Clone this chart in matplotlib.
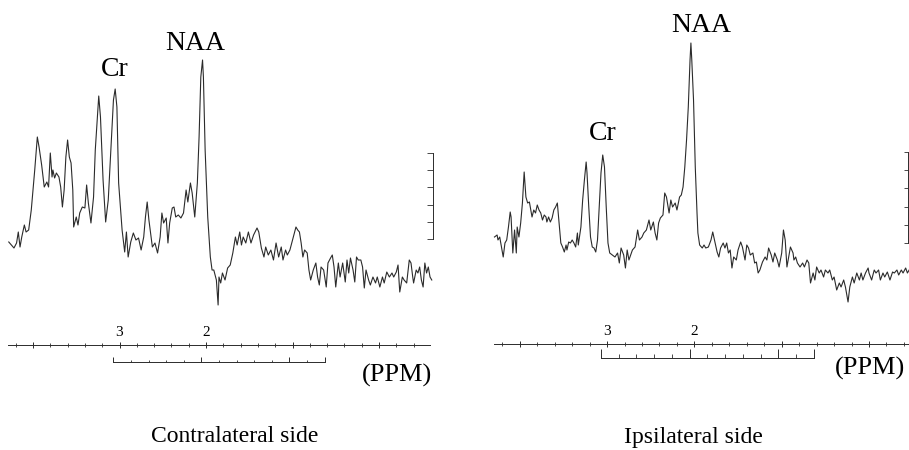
import numpy as np
import matplotlib
matplotlib.use("Agg")
import matplotlib.pyplot as plt
from matplotlib.ticker import FixedLocator, FixedFormatter

plt.rcParams['font.family'] = ['Liberation Serif', 'DejaVu Serif']

# spectra: chemical shift (ppm) and signal (arbitrary units)
contra_ppm = [4.28, 4.25, 4.22, 4.19, 4.17, 4.15, 4.13, 4.10, 4.08, 4.05,
              4.02, 3.98, 3.95, 3.93, 3.90, 3.87, 3.84, 3.82, 3.80, 3.78,
              3.77, 3.75, 3.73, 3.70, 3.68, 3.66, 3.64, 3.62, 3.60, 3.58,
              3.56, 3.54, 3.53, 3.50, 3.48, 3.46, 3.43, 3.40, 3.38, 3.36,
              3.33, 3.30, 3.28, 3.24, 3.22, 3.19, 3.16, 3.13, 3.10, 3.07,
              3.05, 3.03, 3.01, 2.97, 2.94, 2.92, 2.90, 2.87, 2.84, 2.81,
              2.78, 2.75, 2.72, 2.70, 2.68, 2.66, 2.62, 2.59, 2.56, 2.53,
              2.51, 2.49, 2.46, 2.44, 2.42, 2.39, 2.37, 2.35, 2.32, 2.29,
              2.26, 2.23, 2.21, 2.18, 2.16, 2.13, 2.10, 2.08, 2.06, 2.04,
              2.03, 2.01, 1.98, 1.95, 1.93, 1.91, 1.88, 1.86, 1.85, 1.83,
              1.81, 1.78, 1.75, 1.72, 1.69, 1.66, 1.64, 1.61, 1.59, 1.57,
              1.54, 1.51, 1.48, 1.45, 1.41, 1.39, 1.36, 1.33, 1.31, 1.28,
              1.25, 1.22, 1.19, 1.16, 1.13, 1.11, 1.08, 1.06, 1.03, 1.00,
              0.96, 0.94, 0.92, 0.90, 0.88, 0.86, 0.83, 0.81, 0.79, 0.76,
              0.73, 0.71, 0.69, 0.67, 0.64, 0.61, 0.59, 0.56, 0.54, 0.52,
              0.50, 0.47, 0.45, 0.42, 0.39, 0.37, 0.35, 0.33, 0.30, 0.28,
              0.26, 0.24, 0.21, 0.19, 0.17, 0.15, 0.12, 0.10, 0.07, 0.04,
              0.02, -0.01, -0.04, -0.06, -0.09, -0.12, -0.15, -0.17, -0.20, -0.22,
              -0.24, -0.27, -0.29, -0.32, -0.35, -0.37, -0.39, -0.40, -0.43, -0.45,
              -0.47, -0.49, -0.51, -0.53, -0.55, -0.57, -0.59, -0.61]
contra_amp = [68, 65, 62, 67, 78, 63, 73, 85, 78, 80,
              100, 140, 173, 163, 145, 123, 128, 123, 157, 133,
              140, 132, 137, 133, 123, 103, 120, 153, 170, 153,
              147, 120, 83, 93, 85, 97, 103, 102, 125, 107,
              87, 113, 160, 214, 193, 130, 88, 110, 160, 210,
              221, 203, 127, 80, 58, 78, 53, 68, 77, 70,
              72, 60, 73, 93, 108, 90, 63, 67, 57, 73,
              97, 87, 92, 67, 87, 102, 103, 93, 95, 92,
              97, 120, 108, 127, 117, 93, 127, 173, 233, 250,
              233, 160, 93, 53, 40, 40, 30, 5, 33, 27,
              37, 30, 42, 45, 57, 73, 65, 78, 65, 73,
              67, 78, 67, 75, 82, 78, 62, 53, 63, 55,
              60, 50, 67, 53, 63, 50, 60, 55, 60, 70,
              83, 80, 78, 67, 53, 60, 57, 40, 30, 40,
              47, 33, 25, 43, 40, 23, 47, 52, 55, 43,
              23, 47, 33, 47, 28, 50, 37, 52, 40, 28,
              53, 50, 50, 43, 22, 40, 30, 25, 33, 27,
              33, 23, 33, 27, 38, 33, 37, 33, 38, 45,
              18, 33, 30, 27, 50, 47, 33, 27, 40, 37,
              43, 30, 23, 47, 37, 43, 33, 30]

ipsi_ppm = [4.29, 4.26, 4.25, 4.23, 4.21, 4.19, 4.17, 4.15, 4.13, 4.11,
            4.10, 4.08, 4.06, 4.04, 4.03, 4.01, 3.99, 3.97, 3.95, 3.93,
            3.91, 3.89, 3.88, 3.86, 3.84, 3.82, 3.80, 3.78, 3.76, 3.74,
            3.72, 3.70, 3.69, 3.67, 3.65, 3.63, 3.61, 3.59, 3.57, 3.55,
            3.53, 3.51, 3.49, 3.47, 3.46, 3.44, 3.42, 3.40, 3.38, 3.36,
            3.34, 3.33, 3.30, 3.28, 3.26, 3.24, 3.23, 3.21, 3.19, 3.17,
            3.15, 3.13, 3.11, 3.09, 3.07, 3.05, 3.03, 3.01, 2.99, 2.97,
            2.94, 2.91, 2.88, 2.86, 2.84, 2.81, 2.79, 2.77, 2.75, 2.71,
            2.68, 2.65, 2.63, 2.60, 2.58, 2.55, 2.52, 2.50, 2.47, 2.45,
            2.43, 2.41, 2.39, 2.36, 2.34, 2.32, 2.29, 2.27, 2.25, 2.22,
            2.20, 2.17, 2.15, 2.13, 2.11, 2.09, 2.07, 2.05, 2.04, 2.03,
            2.01, 1.99, 1.97, 1.96, 1.94, 1.91, 1.89, 1.87, 1.84, 1.81,
            1.79, 1.77, 1.74, 1.72, 1.70, 1.67, 1.65, 1.63, 1.61, 1.59,
            1.57, 1.55, 1.52, 1.50, 1.47, 1.45, 1.42, 1.40, 1.38, 1.36,
            1.33, 1.31, 1.29, 1.27, 1.25, 1.22, 1.19, 1.17, 1.15, 1.12,
            1.10, 1.08, 1.05, 1.03, 1.00, 0.98, 0.96, 0.94, 0.92, 0.90,
            0.87, 0.86, 0.84, 0.82, 0.79, 0.76, 0.74, 0.71, 0.69, 0.67,
            0.64, 0.62, 0.60, 0.57, 0.55, 0.52, 0.50, 0.47, 0.45, 0.42,
            0.40, 0.37, 0.34, 0.32, 0.29, 0.27, 0.24, 0.22, 0.19, 0.17,
            0.14, 0.11, 0.09, 0.07, 0.04, 0.01, 0.00, -0.03, -0.06, -0.08,
            -0.11, -0.13, -0.16, -0.18, -0.21, -0.24, -0.27, -0.29, -0.32, -0.34,
            -0.37, -0.39, -0.42, -0.44, -0.46]
ipsi_amp = [73, 75, 70, 73, 63, 53, 67, 70, 83, 98,
            93, 57, 80, 57, 83, 73, 87, 107, 138, 113,
            107, 108, 103, 93, 100, 97, 105, 100, 97, 90,
            95, 93, 88, 93, 88, 92, 100, 103, 107, 87,
            67, 63, 58, 65, 60, 68, 67, 70, 67, 63,
            77, 65, 83, 110, 130, 148, 137, 103, 73, 63,
            62, 58, 70, 103, 137, 155, 143, 103, 67, 57,
            55, 53, 57, 47, 62, 55, 42, 60, 50, 60,
            63, 80, 70, 73, 77, 80, 90, 80, 88, 77,
            70, 87, 92, 95, 117, 113, 97, 110, 103, 107,
            100, 113, 115, 123, 143, 170, 203, 250, 267, 250,
            210, 143, 97, 77, 65, 62, 65, 62, 63, 70,
            78, 70, 58, 53, 62, 67, 62, 67, 57, 60,
            42, 53, 50, 60, 68, 63, 50, 65, 62, 55,
            57, 47, 48, 37, 40, 48, 53, 50, 62, 55,
            48, 57, 50, 43, 57, 80, 70, 43, 53, 63,
            57, 50, 53, 47, 43, 47, 43, 50, 47, 27,
            37, 30, 43, 37, 40, 33, 40, 37, 40, 30,
            33, 20, 27, 23, 30, 23, 8, 23, 33, 27,
            37, 30, 37, 30, 37, 42, 37, 30, 40, 37,
            40, 30, 37, 33, 38, 30, 38, 37, 40, 35,
            40, 37, 42, 37, 40]

ppm_major = [4, 3, 2, 1, 0]
ppm_labels = ['', '3', '2', '', '']
bracket_ppm = np.linspace(3.07, 0.63, 13)   # reference bracket, 0.2 ppm steps
titles = ['Contralateral side', 'Ipsilateral side']

# layout in pixels of the 909 x 450 picture
W, H = 909, 450
AMP_LIM = (-140, 310)
INK = '#2b2b2b'

panels = [
    dict(ppm=contra_ppm, amp=contra_amp, title=titles[0],
         x0=0, x1=455, zero=379, scale=86.5, axis_y=344.5, span=(8, 430),
         br_y=362, br_major=5, br_minor=2.5,
         bar_x=433, bar=(71, 157), bar_len=6,
         cr=(3.06, 240), naa=(2.12, 267), unit=(-0.21, -65), title_xy=(235, 437)),
    dict(ppm=ipsi_ppm, amp=ipsi_amp, title=titles[1],
         x0=460, x1=909, zero=869, scale=87.3, axis_y=344, span=(494, 909),
         br_y=358, br_major=9, br_minor=4,
         bar_x=908, bar=(67, 158), bar_len=4,
         cr=(3.05, 177), naa=(1.92, 284), unit=(-0.01, -58), title_xy=(693, 438)),
]


def box(x0, y0, x1, y1):
    # pixel box (top-left origin) -> figure fraction rect
    return [x0 / W, 1 - y1 / H, (x1 - x0) / W, (y1 - y0) / H]


def bare(a, keep):
    for s in ['left', 'right', 'top', 'bottom']:
        a.spines[s].set_visible(s == keep)
        a.spines[s].set_color(INK)
        a.spines[s].set_linewidth(0.7)
    a.patch.set_visible(False)


fig = plt.figure(figsize=(W / 100, H / 100), dpi=100)

for p in panels:
    to_ppm = lambda px: (p['zero'] - px) / p['scale']
    xl = (to_ppm(p['x0']), to_ppm(p['x1']))

    # spectrum
    ax = fig.add_axes(box(p['x0'], 0, p['x1'], H))
    ax.plot(p['ppm'], p['amp'], color=INK, lw=0.8, clip_on=False)
    ax.set_xlim(xl)
    ax.set_ylim(AMP_LIM)
    ax.axis('off')
    ax.text(*p['cr'], 'Cr', ha='center', va='center', fontsize=20)
    ax.text(*p['naa'], 'NAA', ha='center', va='center', fontsize=20)
    ax.text(*p['unit'], '(PPM)', ha='center', va='center', fontsize=19,
            clip_on=False)

    # ppm scale
    sx = fig.add_axes(box(p['x0'], p['axis_y'], p['x1'], p['axis_y'] + 10))
    bare(sx, 'top')
    sx.set_xlim(xl)
    lo, hi = sorted((to_ppm(p['span'][0]), to_ppm(p['span'][1])))
    sx.spines['top'].set_bounds(lo, hi)
    sx.set_yticks([])
    sx.xaxis.set_ticks_position('top')
    sx.xaxis.set_major_locator(FixedLocator(ppm_major))
    sx.xaxis.set_major_formatter(FixedFormatter(ppm_labels))
    minor = [v for v in np.arange(-1, 5.01, 0.2).round(1)
             if lo <= v <= hi and v not in ppm_major]
    sx.xaxis.set_minor_locator(FixedLocator(minor))
    sx.tick_params(which='major', direction='inout', length=4, width=0.7,
                   color=INK, labelsize=11, pad=2)
    sx.tick_params(which='minor', direction='inout', length=2.2, width=0.6,
                   color=INK)

    # reference bracket under the scale
    bx = fig.add_axes(box(p['x0'], p['br_y'] - 12, p['x1'], p['br_y']))
    bare(bx, 'bottom')
    bx.set_xlim(xl)
    bx.spines['bottom'].set_bounds(bracket_ppm[-1], bracket_ppm[0])
    bx.set_yticks([])
    bx.xaxis.set_major_locator(FixedLocator(bracket_ppm[[0, 5, 10, 12]]))
    bx.xaxis.set_minor_locator(FixedLocator(np.delete(bracket_ppm, [0, 5, 10, 12])))
    bx.tick_params(which='major', direction='in', length=p['br_major'] * 0.72,
                   width=0.7, color=INK, labelbottom=False)
    bx.tick_params(which='minor', direction='in', length=p['br_minor'] * 0.72,
                   width=0.6, color=INK)

    # vertical intensity scale bar
    vx = fig.add_axes(box(p['bar_x'] - 15, 0, p['bar_x'], H))
    bare(vx, 'right')
    vx.set_ylim(AMP_LIM)
    vx.spines['right'].set_bounds(*p['bar'])
    vx.set_xticks([])
    vx.yaxis.set_ticks_position('right')
    vx.set_yticks(np.linspace(p['bar'][0], p['bar'][1], 6))
    vx.tick_params(direction='in', length=p['bar_len'] * 0.72, width=0.6,
                   color=INK, labelright=False)

    fig.text(p['title_xy'][0] / W, 1 - p['title_xy'][1] / H, p['title'],
             ha='center', va='center', fontsize=17)

fig.savefig('out.png', dpi=100)
